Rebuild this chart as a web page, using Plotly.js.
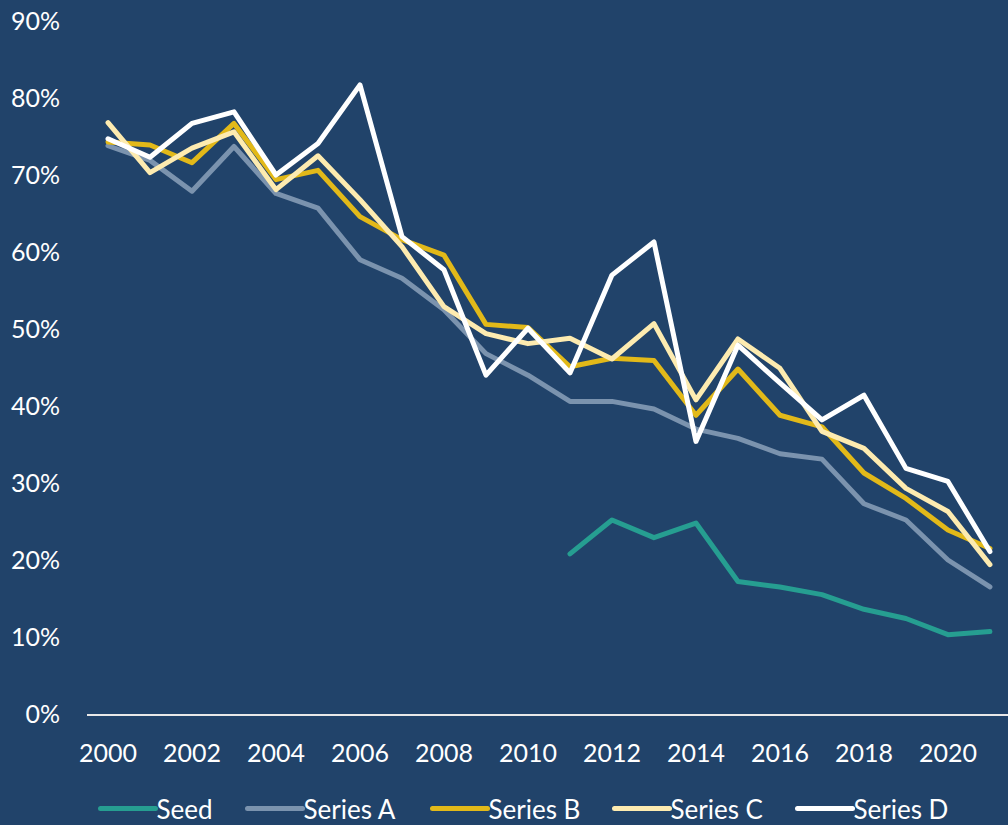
<!DOCTYPE html>
<html>
<head>
<meta charset="utf-8">
<script src="https://cdn.plot.ly/plotly-3.0.1.min.js"></script>
<style>
  html, body { margin: 0; padding: 0; background: #21436A; }
  #chart { width: 1008px; height: 825px; }
  .js-line { stroke-linecap: round; stroke-linejoin: round; }
  .legendlines path { stroke-linecap: round; }
</style>
</head>
<body>
<div id="chart"></div>
<script>
const years = [2000,2001,2002,2003,2004,2005,2006,2007,2008,2009,2010,2011,2012,2013,2014,2015,2016,2017,2018,2019,2020,2021];
const seedYears = [2011,2012,2013,2014,2015,2016,2017,2018,2019,2020,2021];
const seed    = [20.8,25.2,22.9,24.8,17.2,16.5,15.5,13.6,12.4,10.3,10.7];
const seriesA = [73.8,71.9,67.9,73.7,67.6,65.7,59.0,56.6,52.5,46.8,44.0,40.6,40.6,39.6,37.0,35.8,33.8,33.1,27.3,25.2,20.0,16.5];
const seriesB = [74.3,73.9,71.6,76.7,69.4,70.6,64.6,61.6,59.6,50.6,50.2,45.1,46.2,45.9,38.8,44.8,38.8,37.3,31.3,28.0,23.9,21.5];
const seriesC = [76.8,70.3,73.5,75.6,68.1,72.5,66.8,60.7,52.9,49.4,48.1,48.8,46.1,50.7,40.8,48.7,44.9,36.7,34.5,29.3,26.3,19.4];
const seriesD = [74.7,72.3,76.7,78.2,70.0,74.1,81.7,62.0,57.7,44.0,50.1,44.3,57.0,61.3,35.4,47.9,43.0,38.2,41.4,31.9,30.2,21.1];
const names = ['Seed','Series A','Series B','Series C','Series D'];
const colors = ['#269E91','#7B93AE','#E2B919','#FDEBB0','#FFFFFF'];
const xTicks = [2000,2002,2004,2006,2008,2010,2012,2014,2016,2018,2020];
const yTicks = [0,10,20,30,40,50,60,70,80,90];
// legend entry start positions (px), layout only
const legendStarts = [98,245,430,612,795];

const xs = [seedYears, years, years, years, years];
const ys = [seed, seriesA, seriesB, seriesC, seriesD];
const traces = ys.map((y, i) => ({
  x: xs[i], y: y, name: names[i], type: 'scatter', mode: 'lines',
  line: {color: colors[i], width: 5}
}));

const font = {family: 'Lato, "Open Sans", sans-serif', size: 25, color: '#FFFFFF'};
const legendFont = {family: 'Lato, "Open Sans", sans-serif', size: 26, color: '#FFFFFF'};
const layout = {
  width: 1008, height: 825,
  paper_bgcolor: '#21436A', plot_bgcolor: '#21436A',
  margin: {l: 87, r: 0, t: 21, b: 111, autoexpand: false},
  font: font,
  showlegend: true,
  legend: {
    orientation: 'h', x: -0.012, xanchor: 'left', y: -0.1365, yanchor: 'middle',
    font: legendFont, bgcolor: 'rgba(0,0,0,0)', itemwidth: 66, traceorder: 'normal'
  },
  xaxis: {
    range: [1999.5, 2021.43], tickmode: 'array', tickvals: xTicks,
    ticktext: xTicks.map(String), showgrid: false, zeroline: false,
    showline: true, linecolor: '#E8E8E8', linewidth: 2, ticks: '',
    ticklabelstandoff: 16, tickfont: font, fixedrange: true
  },
  yaxis: {
    range: [0, 90], tickmode: 'array', tickvals: yTicks,
    ticktext: yTicks.map(v => v + '%'), showgrid: false, zeroline: false,
    showline: false, ticks: '', ticklabelstandoff: 26, tickfont: font, fixedrange: true
  }
};
Plotly.newPlot('chart', traces, layout, {displayModeBar: false, staticPlot: true}).then(() => {
  document.querySelectorAll('.legend .scrollbox').forEach(s => s.removeAttribute('clip-path'));
  document.querySelectorAll('.legend .traces').forEach((g, i) => {
    const p = g.querySelector('.legendlines path');
    if (!p) return;
    p.setAttribute('d', 'M20,0h55');
    const r = p.getBoundingClientRect();
    const dx = (legendStarts[i] + 2.5) - r.left;
    const t = g.getAttribute('transform') || '';
    const m = /translate\(\s*([-\d.eE]+)[\s,]*([-\d.eE]+)?\s*\)/.exec(t);
    const tx = m ? parseFloat(m[1]) : 0;
    const ty = m && m[2] ? parseFloat(m[2]) : 0;
    g.setAttribute('transform', 'translate(' + (tx + dx) + ',' + ty + ')');
  });
});
</script>
</body>
</html>
